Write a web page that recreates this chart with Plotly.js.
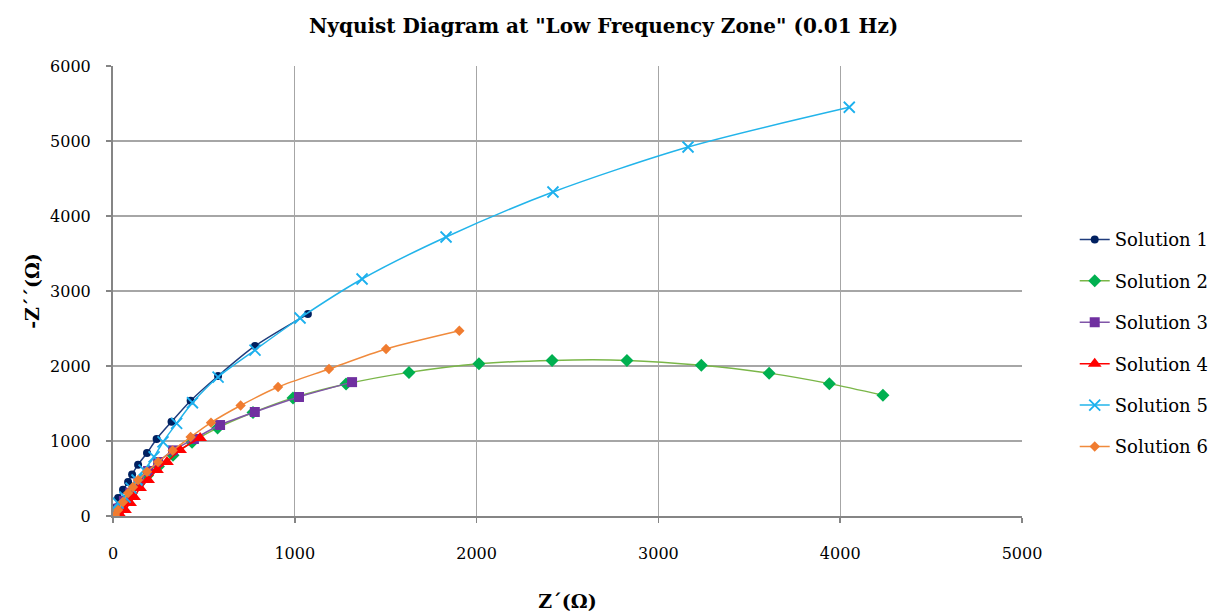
<!DOCTYPE html>
<html>
<head>
<meta charset="utf-8">
<script src="https://cdn.plot.ly/plotly-3.0.1.min.js"></script>
<style>html,body{margin:0;padding:0;background:#fff;}#chart{width:1222px;height:612px;}</style>
</head>
<body>
<div id="chart"></div>
<script>
// Data (Z' in ohm, -Z'' in ohm)
var seriesNames = ["Solution 1", "Solution 2", "Solution 3", "Solution 4", "Solution 5", "Solution 6"];

var s1x = [3, 12, 28, 55, 83, 105, 138, 187, 240, 322, 427, 578, 781, 1072];
var s1y = [20, 110, 240, 350, 453, 555, 685, 840, 1027, 1257, 1537, 1867, 2267, 2693];

var s2x = [10, 35, 65, 100, 140, 190, 250, 330, 435, 575, 770, 990, 1282, 1628, 2013, 2415, 2827, 3236, 3609, 3940, 4235];
var s2y = [10, 100, 200, 300, 420, 540, 660, 810, 985, 1175, 1380, 1575, 1760, 1915, 2030, 2075, 2075, 2010, 1905, 1765, 1610];

var s3x = [10, 30, 60, 95, 140, 193, 248, 330, 445, 589, 780, 1023, 1315];
var s3y = [20, 100, 200, 310, 440, 600, 720, 875, 1027, 1213, 1387, 1587, 1785];

var s4x = [44, 66, 94, 116, 149, 193, 242, 297, 369, 479];
var s4y = [0, 80, 173, 253, 373, 480, 613, 720, 880, 1040];

var s5x = [0, 28, 66, 99, 132, 171, 226, 275, 350, 437, 578, 781, 1029, 1370, 1832, 2420, 3163, 4050];
var s5y = [80, 173, 253, 373, 480, 613, 787, 987, 1235, 1510, 1853, 2213, 2640, 3160, 3720, 4320, 4920, 5450];

var s6x = [11, 28, 55, 83, 110, 138, 187, 248, 328, 427, 539, 702, 908, 1188, 1502, 1905];
var s6y = [13, 80, 187, 307, 387, 480, 590, 720, 873, 1053, 1245, 1473, 1720, 1960, 2227, 2470];

var xTicks = [0, 1000, 2000, 3000, 4000, 5000];
var yTicks = [0, 1000, 2000, 3000, 4000, 5000, 6000];

var styles = [
  {line: "#1F3C7C", marker: "#002060", symbol: "circle", size: 8},
  {line: "#7AB648", marker: "#00B050", symbol: "diamond", size: 10},
  {line: "#8055A8", marker: "#7030A0", symbol: "square", size: 10},
  {line: "#FF0000", marker: "#FF0000", symbol: "triangle-up", size: 12},
  {line: "#22B4EA", marker: "#1CB0EE", symbol: "x-thin-open", size: 11},
  {line: "#F08A3C", marker: "#F07C30", symbol: "diamond", size: 8}
];

var xs = [s1x, s2x, s3x, s4x, s5x, s6x];
var ys = [s1y, s2y, s3y, s4y, s5y, s6y];

var traces = seriesNames.map(function (name, i) {
  var st = styles[i];
  return {
    type: "scatter",
    mode: "lines+markers",
    name: name,
    legendgroup: "g" + i,
    x: xs[i],
    y: ys[i],
    line: {color: st.line, width: 1.5, shape: "spline", smoothing: 0.8},
    marker: {color: st.marker, symbol: st.symbol, size: st.size,
             line: {color: st.marker, width: st.symbol === "x-thin-open" ? 1.8 : 0}}
  };
});

var serif = "DejaVu Serif, Liberation Serif, serif";

var layout = {
  width: 1222,
  height: 612,
  paper_bgcolor: "#ffffff",
  plot_bgcolor: "#ffffff",
  margin: {l: 113, r: 200, t: 66, b: 96, autoexpand: false},
  title: {
    text: "<b>Nyquist Diagram at \"Low Frequency Zone\" (0.01 Hz)</b>",
    font: {family: serif, size: 20, color: "#000"},
    x: 0.494, xref: "container", xanchor: "center",
    y: 0.958, yref: "container", yanchor: "middle"
  },
  xaxis: {
    range: [0, 5000],
    tickvals: xTicks,
    ticktext: xTicks.map(String),
    showgrid: true, gridcolor: "#A6A6A6", gridwidth: 1.3,
    zeroline: false,
    showline: true, linecolor: "#858585", linewidth: 2,
    ticks: "outside", ticklen: 5, tickcolor: "#858585", tickwidth: 1.5,
    ticklabelstandoff: 17,
    tickfont: {family: serif, size: 16, color: "#000"},
    title: {text: "<b>Z´(Ω)</b>", font: {family: serif, size: 19, color: "#000"}, standoff: 34}
  },
  yaxis: {
    range: [0, 6000],
    tickvals: yTicks,
    ticktext: yTicks.map(String),
    showgrid: true, gridcolor: "#A6A6A6", gridwidth: 1.3,
    zeroline: false,
    showline: true, linecolor: "#858585", linewidth: 2,
    ticks: "outside", ticklen: 5, tickcolor: "#858585", tickwidth: 1.5,
    ticklabelstandoff: 12,
    tickfont: {family: serif, size: 16, color: "#000"},
    title: {text: "<b>-Z´´(Ω)</b>", font: {family: serif, size: 19, color: "#000"}, standoff: 5}
  },
  showlegend: true,
  legend: {
    x: 1.058, xanchor: "left",
    y: 0.655, yanchor: "top",
    font: {family: serif, size: 18, color: "#000"},
    tracegroupgap: 15,
    bgcolor: "rgba(0,0,0,0)"
  }
};

Plotly.newPlot("chart", traces, layout, {displayModeBar: false, staticPlot: true});
</script>
</body>
</html>
